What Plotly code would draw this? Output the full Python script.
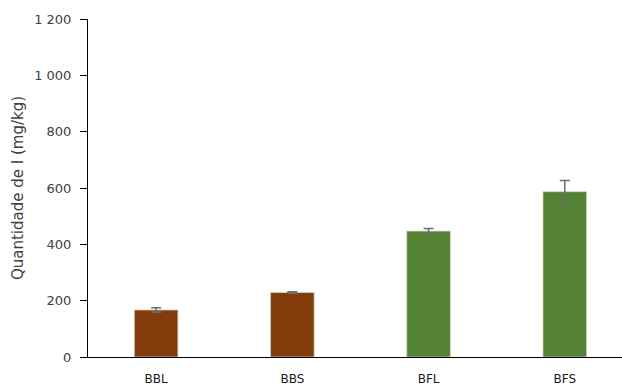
import plotly.graph_objects as go

# Iodine content per sample with standard deviation
categories = ["BBL", "BBS", "BFL", "BFS"]
values = [167, 229, 447, 587]
errors = [8, 3, 9, 40]
colors = ["#843C0C", "#843C0C", "#548235", "#548235"]
tick_vals = [0, 200, 400, 600, 800, 1000, 1200]
tick_text = ["0", "200", "400", "600", "800", "1 000", "1 200"]

fig = go.Figure(
    go.Bar(
        x=list(range(len(categories))),
        y=values,
        width=0.32,
        marker=dict(color=colors, line=dict(color="#C9D7BE", width=0.8)),
        error_y=dict(type="data", array=errors, color="#6E6E6E", thickness=1.5, width=5),
    )
)

fig.update_layout(
    width=622,
    height=385,
    margin=dict(l=88, r=0, t=19, b=28),
    plot_bgcolor="white",
    paper_bgcolor="white",
    showlegend=False,
    font=dict(family="DejaVu Sans", color="#595959"),
)

fig.update_xaxes(
    range=[-0.5, 3.42],
    tickvals=list(range(len(categories))),
    ticktext=categories,
    tickfont=dict(size=12, color="#1A1A1A"),
    ticklabelstandoff=11,
    automargin=False,
    showline=True,
    linecolor="#000000",
    linewidth=1,
    showgrid=False,
    ticks="",
    zeroline=False,
)

fig.update_yaxes(
    range=[0, 1200],
    tickvals=tick_vals,
    ticktext=tick_text,
    tickfont=dict(size=13, color="#404040"),
    ticks="outside",
    ticklen=7,
    tickcolor="#000000",
    ticklabelstandoff=6,
    automargin=False,
    showline=True,
    linecolor="#000000",
    linewidth=1,
    showgrid=False,
    zeroline=False,
    title=dict(text="Quantidade de I (mg/kg)", font=dict(size=15, color="#404040"), standoff=6),
)

fig.write_html("out.html")
